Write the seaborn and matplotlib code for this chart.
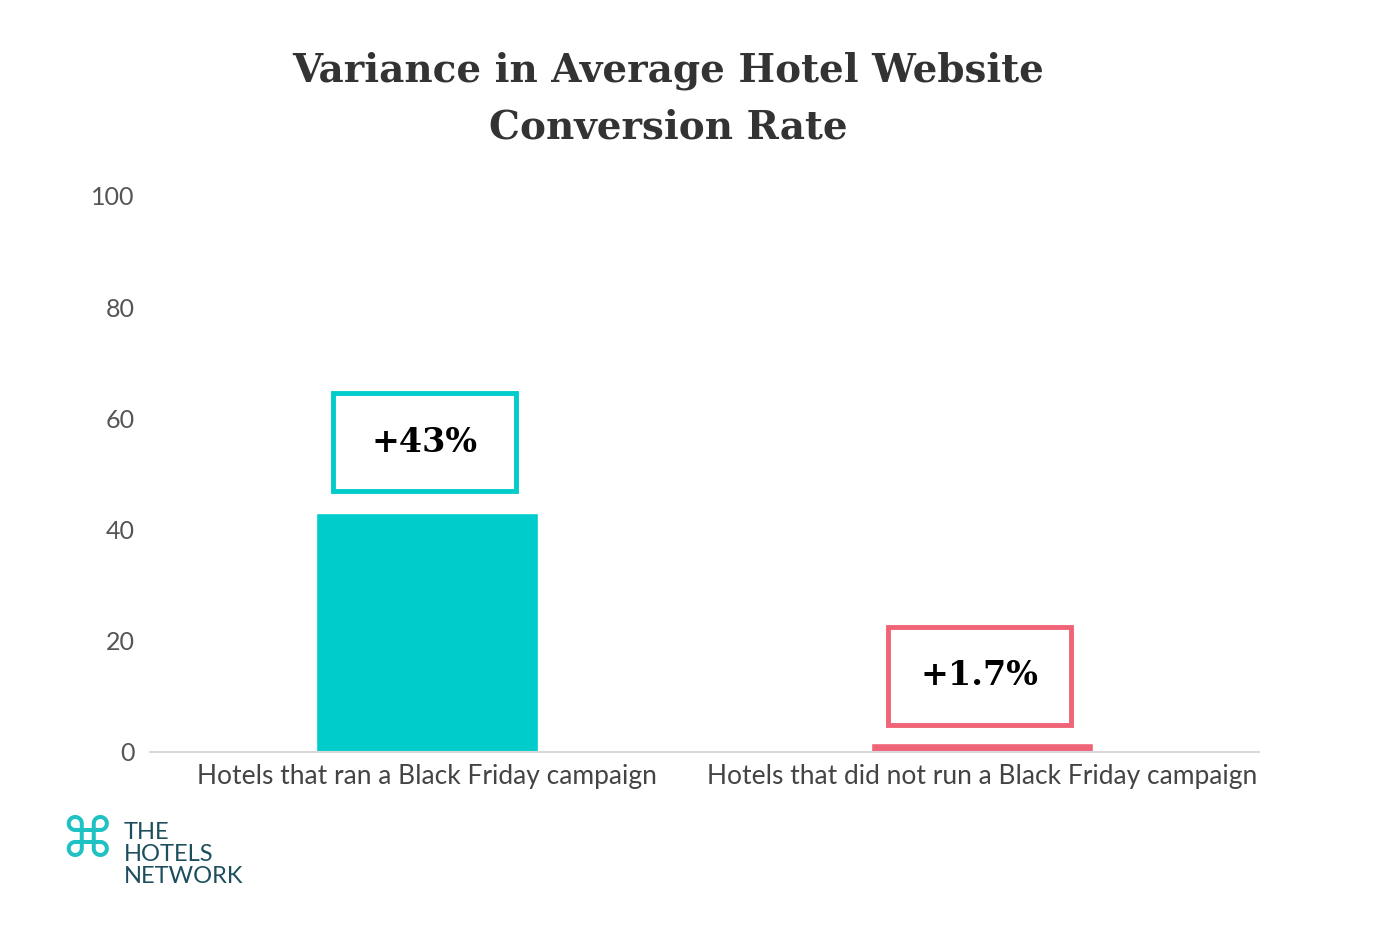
import matplotlib
matplotlib.use("Agg")
import matplotlib.pyplot as plt
import seaborn as sns
import pandas as pd
from matplotlib.patches import Rectangle

categories = ["Hotels that ran a Black Friday campaign", "Hotels that did not run a Black Friday campaign"]
values = [43, 1.7]
labels = ["+43%", "+1.7%"]
colors = ["#00CCCC", "#F06478"]
yticks = [0, 20, 40, 60, 80, 100]

sns.set_theme(style="white")
plt.rcParams['font.family'] = ['Lato', 'DejaVu Sans']
fig = plt.figure(figsize=(13.87, 9.33), dpi=100)
ax = fig.add_axes([0.108, 0.194, 0.80, 0.596])
df = pd.DataFrame({"cat": categories, "val": values})
sns.barplot(data=df, x="cat", y="val", hue="cat", palette=colors, width=0.4, ax=ax, legend=False, saturation=1)
ax.set_xlim(-0.5, 1.5)
ax.set_ylim(0, 100)
ax.set_yticks(yticks)
ax.tick_params(axis='y', labelsize=18, colors="#555555", length=0, pad=11)
ax.tick_params(axis='x', labelsize=19, colors="#444444", length=0, pad=9)
ax.set_xlabel(""); ax.set_ylabel("")
for s in ["top", "right", "left"]:
    ax.spines[s].set_visible(False)
ax.spines["bottom"].set_color("#d9d9d9")
ax.spines["bottom"].set_linewidth(1.5)

boxes = [(46.9, 64.5), (4.9, 22.5)]
for i, (lab, c, (b, t)) in enumerate(zip(labels, colors, boxes)):
    ax.add_patch(Rectangle((i - 0.17, b), 0.33, t - b, fill=False, edgecolor=c, linewidth=3.5, clip_on=False))
    ax.text(i - 0.005, (b + t) / 2, lab, ha="center", va="center", fontsize=24, fontweight="bold",
            family="DejaVu Serif", color="black")

fig.text(0.482, 0.894, "Variance in Average Hotel Website\nConversion Rate", ha="center", va="center",
         fontsize=28, fontweight="bold", family="DejaVu Serif", color="#333333", linespacing=1.6)

fig.text(0.063, 0.098, "⌘", fontsize=40, color="#1FC2C2", ha="center", va="center", family="DejaVu Sans")
fig.text(0.089, 0.084, "THE\nHOTELS\nNETWORK", fontsize=17, color="#1d4e5e", ha="left", va="center", linespacing=1.05)

fig.savefig("out.png", dpi=100)
